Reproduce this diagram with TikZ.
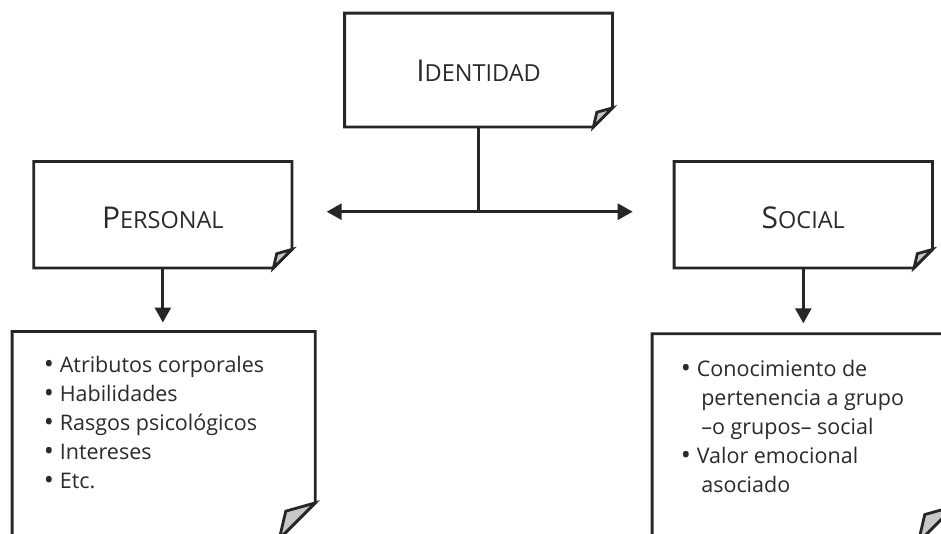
\documentclass[tikz,border=0pt]{standalone}
\usepackage{fontspec}
\setmainfont{Open Sans}
\usetikzlibrary{arrows.meta,calc}

\definecolor{ink}{HTML}{262626}
\definecolor{txt}{HTML}{2A2A2A}
\definecolor{earfill}{HTML}{C8C8C8}

% Box outline with a dog-eared lower right corner; #1 = node name, #2 = fold size
\newcommand\dogearbox[2]{%
  \draw[boxline] (#1.north west) -- (#1.north east)
    -- ([yshift=#2]#1.south east) -- ([xshift=-#2]#1.south east)
    -- (#1.south west) -- cycle;
  \draw[boxline, fill=earfill] ([yshift=#2]#1.south east)
    -- ([xshift=-0.82*#2, yshift=0.77*#2]#1.south east)
    -- ([xshift=-#2]#1.south east) -- cycle;
}

% faked small capitals for the box titles
\newcommand\bigsc[2]{{\fontsize{30}{30}\selectfont #1}{\fontsize{23.5}{23.5}\selectfont #2}}
% list bullet, slightly heavier than the text bullet
\newcommand\blt{\makebox[13.5pt][l]{\hspace*{-2.5pt}\raisebox{-1.3pt}{\fontsize{27}{27}\selectfont •}}}

\tikzset{
  boxline/.style={draw=ink, line width=2.8pt, line join=miter},
  boxnode/.style={draw=none, inner sep=0pt, text=txt},
  arr/.style={draw=ink, line width=2.8pt, -{Triangle[length=15pt, width=16pt]}},
  biarr/.style={draw=ink, line width=2.8pt, {Triangle[length=15pt, width=16pt]}-{Triangle[length=15pt, width=16pt]}},
  stem/.style={draw=ink, line width=2.8pt},
  listtext/.style={inner sep=0pt, anchor=north west, align=left, text=txt,
    font=\fontsize{21.5}{29}\selectfont},
}

\begin{document}
\begin{tikzpicture}[x=1pt, y=-1pt]
  \useasboundingbox (0,0) rectangle (941,533);
  \clip (0,0) rectangle (941,533);

  % top level
  \node[boxnode, minimum width=267.4pt, minimum height=113.4pt,
        text height=23.4pt, text depth=0pt] (iden) at (478.5,70) {\bigsc{I}{DENTIDAD}};
  % second level
  \node[boxnode, minimum width=257.7pt, minimum height=106pt,
        text height=28pt, text depth=0pt] (pers) at (162.85,214.7) {\bigsc{P}{ERSONAL}};
  \node[boxnode, minimum width=258pt, minimum height=106pt,
        text height=28pt, text depth=0pt] (soci) at (803.3,214.7) {\bigsc{S}{OCIAL}};
  % detail boxes
  \node[boxnode, minimum width=302.7pt, minimum height=206.9pt] (persd) at (163.65,435.15) {};
  \node[boxnode, minimum width=301.7pt, minimum height=208pt] (socid) at (803.15,438) {};

  \dogearbox{iden}{19pt}
  \dogearbox{pers}{18.5pt}
  \dogearbox{soci}{18.5pt}
  \dogearbox{persd}{35.9pt}
  \dogearbox{socid}{35.9pt}

  \node[listtext] (persl) at ($(persd.north west)+(34,24)$) {%
    \blt Atributos corporales\\
    \blt Habilidades\\
    \blt Rasgos psicológicos\\
    \blt Intereses\\
    \blt Etc.};
  \node[listtext] (socil) at ($(socid.north west)+(31,26)$) {%
    \blt Conocimiento de\\
    \hspace*{18pt}pertenencia a grupo\\
    \hspace*{18pt}–o grupos– social\\
    \blt Valor emocional\\
    \hspace*{18pt}asociado};

  % connectors
  \coordinate (split) at (iden.south |- 0,211.7);
  \coordinate (ltip) at (326.7,211.7);
  \coordinate (rtip) at (632.7,211.7);
  \draw[stem] (iden.south) -- (split);
  \draw[biarr] (ltip) -- (rtip);
  \draw[arr] (pers.south) -- ($(pers.south |- persd.north)+(0,-9)$);
  \draw[arr] (soci.south) -- ($(soci.south |- socid.north)+(0,-10.5)$);
\end{tikzpicture}
\end{document}
